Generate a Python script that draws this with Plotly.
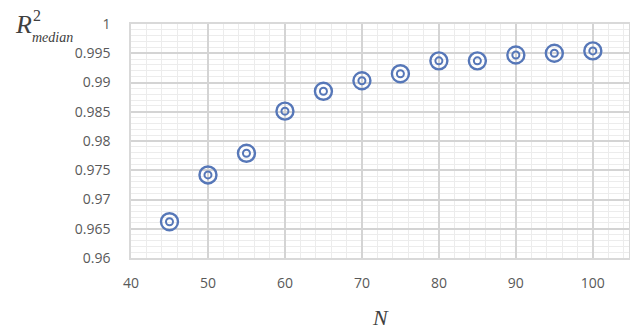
import plotly.graph_objects as go

N = [45, 50, 55, 60, 65, 70, 75, 80, 85, 90, 95, 100]
r2_median = [0.9662, 0.9742, 0.9779, 0.9851, 0.9885, 0.9903, 0.9915, 0.9937, 0.9937, 0.9947, 0.9950, 0.9954]
x_ticks = [40, 50, 60, 70, 80, 90, 100]
y_ticks = [0.96, 0.965, 0.97, 0.975, 0.98, 0.985, 0.99, 0.995, 1.0]
y_ticklabels = ["0.96", "0.965", "0.97", "0.975", "0.98", "0.985", "0.99", "0.995", "1"]

W, H = 630, 329
ML, MR, MT, MB = 131, 1, 24, 71
col = "#5677B8"
fig = go.Figure()
fig.add_trace(go.Scatter(x=N, y=r2_median, mode="markers",
                         marker=dict(symbol="circle-open", size=17, color=col, line=dict(color=col, width=2.4)),
                         showlegend=False, cliponaxis=False))
fig.add_trace(go.Scatter(x=N, y=r2_median, mode="markers",
                         marker=dict(symbol="circle-open", size=7, color=col, line=dict(color=col, width=2)),
                         showlegend=False, cliponaxis=False))

tickfont = dict(family="Open Sans, Liberation Sans, sans-serif", size=14, color="#595959")
serif = "Liberation Serif, Times New Roman, serif"

pw = W - ML - MR
ph = H - MT - MB


def ann(text, px, py, size):
    return dict(text=text, x=(px - ML) / pw, y=(H - MB - py) / ph, xref="paper", yref="paper",
                xanchor="center", yanchor="middle", showarrow=False,
                font=dict(family=serif, size=size, color="#404040"))


fig.update_layout(
    width=W, height=H,
    margin=dict(l=ML, r=MR, t=MT, b=MB, autoexpand=False),
    paper_bgcolor="white", plot_bgcolor="white",
    xaxis=dict(range=[40, 104.7], tickvals=x_ticks, ticktext=[str(v) for v in x_ticks],
               showgrid=True, gridcolor="#d4d4d4", gridwidth=1.5,
               minor=dict(dtick=2, showgrid=True, gridcolor="#ececec", gridwidth=1),
               showline=True, linecolor="#d9d9d9", linewidth=1.5, mirror=True,
               zeroline=False, ticks="", tickfont=tickfont, ticklabelstandoff=11, automargin=False),
    yaxis=dict(range=[0.96, 1.0], tickvals=y_ticks, ticktext=y_ticklabels,
               showgrid=True, gridcolor="#d4d4d4", gridwidth=1.5,
               minor=dict(dtick=0.001, showgrid=True, gridcolor="#ececec", gridwidth=1),
               showline=True, linecolor="#d9d9d9", linewidth=1.5, mirror=True,
               zeroline=False, ticks="", tickfont=tickfont, ticklabelstandoff=16, automargin=False),
    annotations=[
        ann("<i>N</i>", 380, 317, 22),
        ann("<i>R</i>", 23, 25, 26),
        ann("2", 37, 16, 16),
        ann("<i>median</i>", 52, 37, 14),
    ],
)
fig.write_html("out.html", config={"displayModeBar": False},
               post_script="document.body.style.margin='0';document.body.style.overflow='hidden';")
